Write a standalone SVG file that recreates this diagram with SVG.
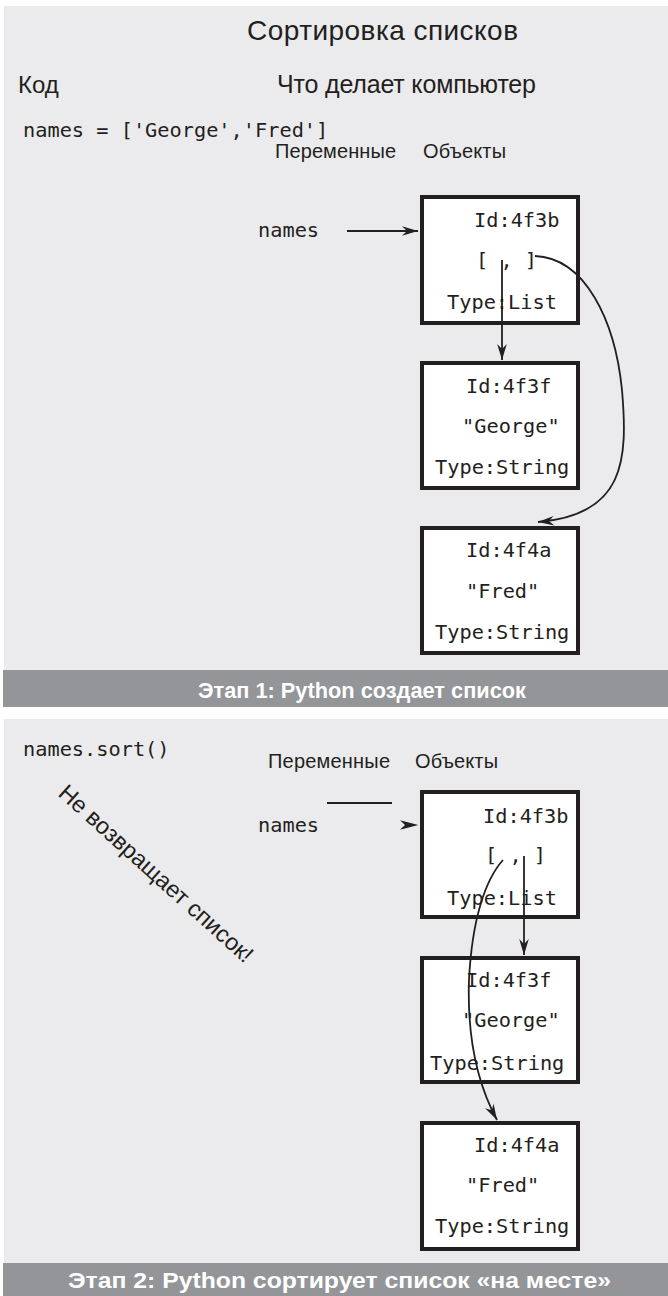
<svg xmlns="http://www.w3.org/2000/svg" width="668" height="1296" viewBox="0 0 668 1296">
<style>
.bg{fill:#ebebed}
.band{fill:#939598}
.sans{font-family:"Liberation Sans",Arial,sans-serif;fill:#231f20}
.mono{font-family:"DejaVu Sans Mono","Liberation Mono",monospace;font-size:20.3px;fill:#231f20}
.bt{font-family:"Liberation Sans",Arial,sans-serif;font-weight:bold;font-size:22.5px;fill:#fff}
.box{fill:#fff;stroke:#231f20;stroke-width:4}
.conn{fill:none;stroke:#231f20;stroke-width:1.8}
</style>
<defs>
<marker id="ah" markerUnits="userSpaceOnUse" markerWidth="18" markerHeight="12" viewBox="-17 -6 18 12" refX="0" refY="0" orient="auto">
<path d="M0,0 L-16,-4.8 L-11,0 L-16,4.8 Z" fill="#231f20"/>
</marker>
</defs>
<rect width="668" height="1296" fill="#fff"/>
<rect class="bg" x="4" y="6" width="664" height="664"/>
<rect class="band" x="3" y="670" width="665" height="37"/>
<rect class="bg" x="4" y="719" width="664" height="544"/>
<rect class="band" x="3" y="1263" width="665" height="33"/>

<g id="headers">
<text class="sans" x="247" y="40" font-size="28" textLength="271">Сортировка списков</text>
<text class="sans" x="18" y="93" font-size="24">Код</text>
<text class="sans" x="277" y="93" font-size="25" textLength="259">Что делает компьютер</text>
<text class="mono" x="23" y="137">names = ['George','Fred']</text>
<text class="sans" x="275" y="158" font-size="20" textLength="121">Переменные</text>
<text class="sans" x="423" y="158" font-size="20" textLength="83">Объекты</text>
<text class="bt" x="198" y="698" textLength="328" lengthAdjust="spacingAndGlyphs">Этап 1: Python создает список</text>
<text class="mono" x="23" y="756">names.sort()</text>
<text class="sans" x="268" y="768" font-size="20" textLength="122">Переменные</text>
<text class="sans" x="415" y="768" font-size="20" textLength="83">Объекты</text>
<text class="sans" font-size="23.5" transform="translate(57,795) rotate(42)">Не возвращает список!</text>
<text class="bt" x="68" y="1288" textLength="543" lengthAdjust="spacingAndGlyphs">Этап 2: Python сортирует список «на месте»</text>
</g>

<g id="var-names-1"><text class="mono" x="258" y="237">names</text></g>
<g id="list-1">
<rect class="box" x="422" y="197" width="156" height="126"/>
<text class="mono" x="474" y="227">Id:4f3b</text>
<text class="mono" x="476" y="267">[ , ]</text>
<text class="mono" x="447" y="309">Type:List</text>
</g>
<g id="george-1">
<rect class="box" x="422" y="363" width="156" height="125"/>
<text class="mono" x="466" y="393">Id:4f3f</text>
<text class="mono" x="462" y="433">"George"</text>
<text class="mono" x="435" y="474">Type:String</text>
</g>
<g id="fred-1">
<rect class="box" x="422" y="528" width="156" height="125"/>
<text class="mono" x="466" y="557">Id:4f4a</text>
<text class="mono" x="466" y="598">"Fred"</text>
<text class="mono" x="435" y="639">Type:String</text>
</g>

<g id="var-names-2"><text class="mono" x="258" y="832">names</text></g>
<g id="list-2">
<rect class="box" x="422" y="792" width="156" height="125"/>
<text class="mono" x="483" y="823">Id:4f3b</text>
<text class="mono" x="485" y="862">[ , ]</text>
<text class="mono" x="447" y="905">Type:List</text>
</g>
<g id="george-2">
<rect class="box" x="422" y="958" width="156" height="124"/>
<text class="mono" x="466" y="987">Id:4f3f</text>
<text class="mono" x="462" y="1027">"George"</text>
<text class="mono" x="430" y="1070">Type:String</text>
</g>
<g id="fred-2">
<rect class="box" x="422" y="1123" width="156" height="126"/>
<text class="mono" x="474" y="1152">Id:4f4a</text>
<text class="mono" x="466" y="1192">"Fred"</text>
<text class="mono" x="435" y="1233">Type:String</text>
</g>

<g id="connectors">
<line class="conn" x1="347" y1="231" x2="418" y2="231" marker-end="url(#ah)"/>
<line class="conn" x1="502" y1="260" x2="502" y2="360" marker-end="url(#ah)"/>
<path class="conn" d="M535,256 C585,258 615,320 622,390 C628,460 625,515 538,522" marker-end="url(#ah)"/>
<line class="conn" x1="327" y1="803" x2="392" y2="803"/>
<path d="M400,820.2 L418.3,825 L400,829.8 L405,825 Z" fill="#231f20"/>
<line class="conn" x1="524" y1="856" x2="524" y2="955" marker-end="url(#ah)"/>
<path class="conn" d="M503,860 C485,880 472,920 469,980 C467,1040 478,1085 497,1120" marker-end="url(#ah)"/>
</g>
</svg>
